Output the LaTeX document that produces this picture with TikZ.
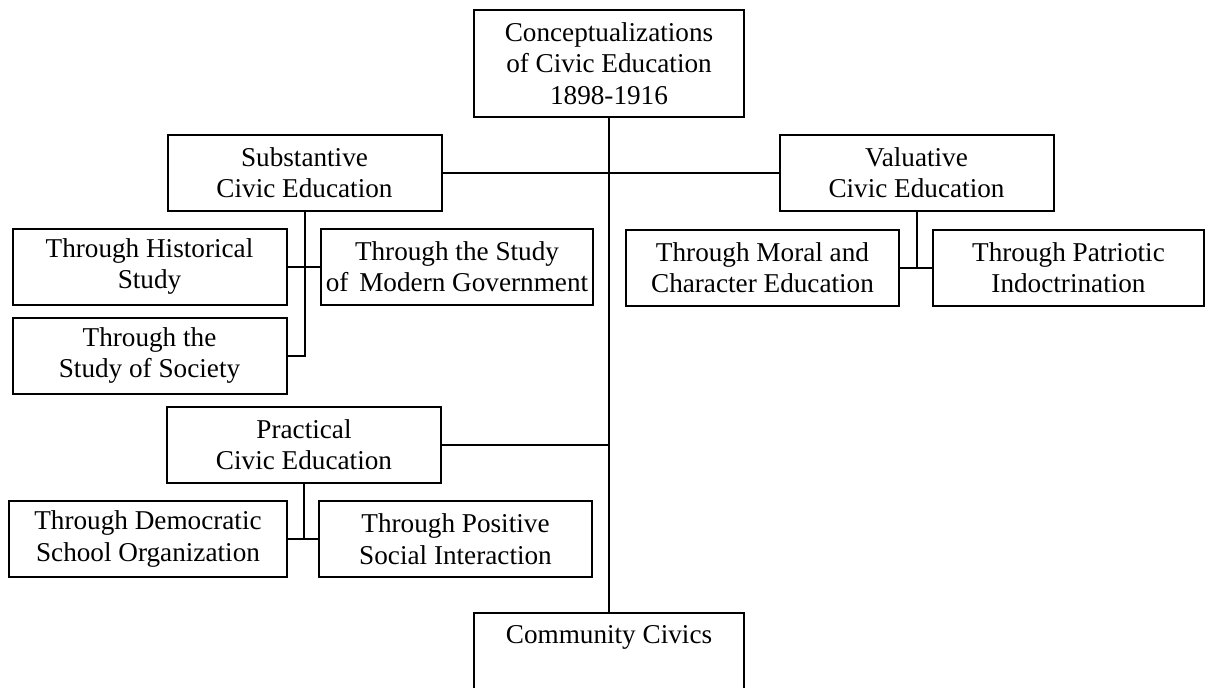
\documentclass[tikz,border=0pt]{standalone}
\usepackage{fontspec}
\setmainfont{Liberation Serif}
\tikzset{
  civbox/.style={draw, line width=1pt, align=center, inner sep=2pt,
    minimum width=137pt, minimum height=38pt,
    font=\fontsize{13.6}{15.8}\selectfont},
}
\begin{document}
\begin{tikzpicture}[x=0.5pt,y=-0.5pt,line width=1pt]
    \useasboundingbox (0,0) rectangle (1206,687);
    % top and bottom of the tree
    \node[civbox,minimum width=135pt,minimum height=53.5pt] (concept) at (609,63.5) {Conceptualizations\\of Civic Education\\1898-1916};
    \node[civbox,anchor=north,minimum width=135pt,text height=13pt,text depth=31pt] (community) at (609,612) {Community Civics};
    % the three kinds
    \node[civbox] (subst) at (304.5,172.5) {Substantive\\Civic Education};
    \node[civbox] (valu) at (916.5,172.5) {Valuative\\Civic Education};
    \node[civbox] (pract) at (304,444.5) {Practical\\Civic Education};
    % substantive
    \node[civbox] (hist) at (149.5,266.5) {Through Historical\\Study};
    \node[civbox,minimum width=136pt] (modgov) at (457,266.5) {Through the Study\\of\hspace{0.4em}Modern Government};
    \node[civbox] (society) at (149.5,355.5) {Through the\\Study of Society};
    % valuative
    \node[civbox,minimum width=136.5pt] (moral) at (762.5,267.5) {Through Moral and\\Character Education};
    \node[civbox,minimum width=135.5pt] (patriot) at (1068.5,267.5) {Through Patriotic\\Indoctrination};
    % practical
    \node[civbox,minimum width=139pt] (democ) at (148,539) {Through Democratic\\School Organization};
    \node[civbox,minimum width=136.5pt] (positive) at (455.5,539) {Through Positive\\Social Interaction};
    % connectors
    \draw (concept) -- (community);
    \draw (subst) -- (valu);
    \draw (pract) -- (pract -| concept);
    \draw (subst) |- (society);
    \draw (hist) -- (modgov);
    \draw (valu) -- (valu |- moral);
    \draw (moral) -- (patriot);
    \draw (pract) -- (pract |- democ);
    \draw (democ) -- (positive);
\end{tikzpicture}
\end{document}
